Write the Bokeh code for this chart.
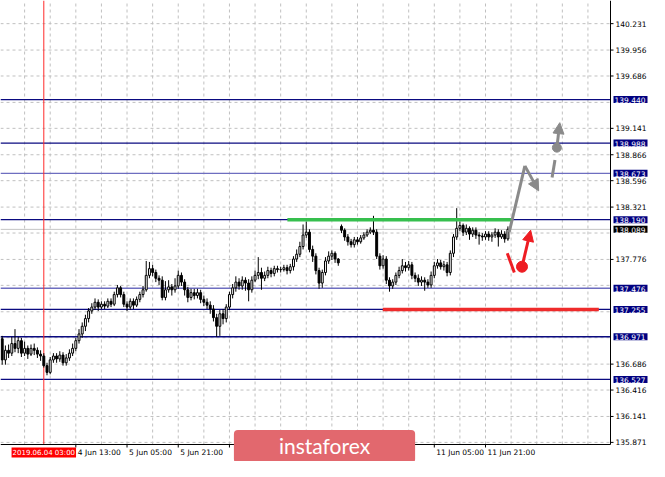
from bokeh.plotting import figure
from bokeh.models import Range1d, Label, Arrow, NormalHead, ColumnDataSource
from bokeh.core.properties import value
from bokeh.embed import file_html
from bokeh.resources import INLINE

# ---------------- data ----------------
FIRST_BAR = -13          # bar index 0 = 2019.06.04 03:00 (H1 bars, weekend skipped)
OPEN = [
136.95, 136.73, 136.83, 136.80, 136.90, 136.85, 136.93, 136.80, 136.85, 136.79,
136.85, 136.83, 136.79, 136.77, 136.67, 136.60, 136.73, 136.77, 136.74, 136.78,
136.70, 136.75, 136.80, 136.85, 136.93, 137.00, 137.08, 137.16, 137.24, 137.28,
137.33, 137.28, 137.31, 137.29, 137.34, 137.31, 137.41, 137.48, 137.41, 137.31,
137.28, 137.34, 137.30, 137.36, 137.41, 137.46, 137.61, 137.68, 137.64, 137.58,
137.56, 137.38, 137.46, 137.49, 137.46, 137.50, 137.61, 137.54, 137.46, 137.38,
137.43, 137.40, 137.43, 137.36, 137.33, 137.30, 137.26, 137.17, 137.08, 137.21,
137.16, 137.28, 137.41, 137.48, 137.54, 137.50, 137.56, 137.53, 137.46, 137.56,
137.61, 137.64, 137.58, 137.61, 137.66, 137.63, 137.68, 137.67, 137.67, 137.69,
137.66, 137.70, 137.78, 137.83, 137.91, 138.03, 138.06, 137.88, 137.81, 137.66,
137.53, 137.64, 137.76, 137.81, 137.84, 137.78, 138.12, 138.08, 138.01, 137.96,
137.93, 137.98, 137.96, 138.00, 138.03, 138.06, 138.08, 138.06, 137.81, 137.71,
137.78, 137.56, 137.50, 137.54, 137.61, 137.66, 137.71, 137.69, 137.72, 137.61,
137.58, 137.54, 137.56, 137.54, 137.51, 137.61, 137.71, 137.74, 137.70, 137.72,
137.64, 137.84, 138.01, 138.10, 138.13, 138.06, 138.10, 138.04, 138.08, 138.03,
138.02, 138.01, 138.04, 138.01, 138.03, 138.06, 138.01, 138.04, 137.99,
]
CLOSE = [
136.73, 136.83, 136.80, 136.90, 136.85, 136.93, 136.80, 136.85, 136.79, 136.85,
136.83, 136.79, 136.77, 136.67, 136.60, 136.73, 136.77, 136.74, 136.78, 136.70,
136.75, 136.80, 136.85, 136.93, 137.00, 137.08, 137.16, 137.24, 137.28, 137.33,
137.28, 137.31, 137.29, 137.34, 137.31, 137.41, 137.48, 137.41, 137.31, 137.28,
137.34, 137.30, 137.36, 137.41, 137.46, 137.61, 137.68, 137.64, 137.58, 137.56,
137.38, 137.46, 137.49, 137.46, 137.50, 137.61, 137.54, 137.46, 137.38, 137.43,
137.40, 137.43, 137.36, 137.33, 137.30, 137.26, 137.17, 137.08, 137.21, 137.16,
137.28, 137.41, 137.48, 137.54, 137.50, 137.56, 137.53, 137.46, 137.56, 137.61,
137.64, 137.58, 137.61, 137.66, 137.63, 137.68, 137.67, 137.67, 137.69, 137.66,
137.70, 137.78, 137.83, 137.91, 138.03, 138.06, 137.88, 137.81, 137.66, 137.53,
137.64, 137.76, 137.81, 137.84, 137.78, 137.74, 138.08, 138.01, 137.96, 137.93,
137.98, 137.96, 138.00, 138.03, 138.06, 138.08, 138.06, 137.81, 137.71, 137.78,
137.56, 137.50, 137.54, 137.61, 137.66, 137.71, 137.69, 137.72, 137.61, 137.58,
137.54, 137.56, 137.54, 137.51, 137.61, 137.71, 137.74, 137.70, 137.72, 137.64,
137.84, 138.01, 138.10, 138.13, 138.06, 138.10, 138.04, 138.08, 138.03, 138.02,
138.01, 138.04, 138.01, 138.03, 138.06, 138.01, 138.04, 137.99, 138.09,
]
HIGH = [
136.98, 136.88, 136.89, 136.97, 137.05, 136.97, 136.96, 136.92, 136.88, 136.89,
136.90, 136.86, 136.83, 136.80, 136.70, 136.76, 136.80, 136.80, 136.82, 136.81,
136.79, 136.84, 136.90, 136.96, 137.05, 137.12, 137.20, 137.27, 137.32, 137.37,
137.36, 137.34, 137.34, 137.37, 137.37, 137.44, 137.51, 137.50, 137.44, 137.34,
137.37, 137.37, 137.39, 137.44, 137.50, 137.76, 137.75, 137.72, 137.67, 137.61,
137.60, 137.55, 137.56, 137.52, 137.58, 137.66, 137.64, 137.57, 137.49, 137.47,
137.47, 137.47, 137.46, 137.40, 137.37, 137.34, 137.30, 137.21, 137.25, 137.26,
137.31, 137.44, 137.52, 137.60, 137.58, 137.60, 137.59, 137.57, 137.60, 137.66,
137.80, 137.69, 137.65, 137.70, 137.69, 137.71, 137.71, 137.70, 137.72, 137.72,
137.73, 137.81, 137.88, 137.96, 138.14, 138.17, 138.09, 137.92, 137.84, 137.69,
137.67, 137.80, 137.86, 137.87, 137.86, 137.79, 138.14, 138.10, 138.04, 137.99,
138.01, 138.01, 138.03, 138.06, 138.09, 138.11, 138.23, 138.09, 137.84, 137.82,
137.81, 137.59, 137.57, 137.64, 137.70, 137.78, 137.75, 137.76, 137.75, 137.64,
137.62, 137.60, 137.59, 137.57, 137.65, 137.75, 137.78, 137.77, 137.76, 137.75,
137.87, 138.04, 138.31, 138.17, 138.15, 138.14, 138.12, 138.11, 138.11, 138.06,
138.05, 138.07, 138.07, 138.06, 138.10, 138.09, 138.08, 138.07, 138.12,
]
LOW = [
136.68, 136.68, 136.75, 136.77, 136.81, 136.80, 136.76, 136.77, 136.74, 136.77,
136.78, 136.75, 136.72, 136.65, 136.57, 136.58, 136.70, 136.70, 136.71, 136.67,
136.67, 136.72, 136.77, 136.82, 136.90, 136.96, 137.03, 137.12, 137.21, 137.25,
137.24, 137.26, 137.26, 137.27, 137.28, 137.29, 137.38, 137.38, 137.28, 137.24,
137.25, 137.26, 137.28, 137.33, 137.38, 137.44, 137.58, 137.60, 137.54, 137.51,
137.35, 137.35, 137.43, 137.40, 137.43, 137.47, 137.50, 137.40, 137.33, 137.35,
137.36, 137.37, 137.32, 137.29, 137.26, 137.21, 137.13, 136.97, 136.98, 137.10,
137.12, 137.25, 137.37, 137.44, 137.46, 137.46, 137.45, 137.34, 137.43, 137.54,
137.57, 137.46, 137.55, 137.58, 137.59, 137.60, 137.64, 137.64, 137.65, 137.62,
137.63, 137.66, 137.75, 137.80, 137.88, 138.00, 137.85, 137.75, 137.62, 137.47,
137.48, 137.61, 137.73, 137.77, 137.74, 137.71, 138.05, 137.97, 137.92, 137.90,
137.90, 137.93, 137.94, 137.98, 138.01, 138.04, 138.03, 137.78, 137.67, 137.68,
137.52, 137.44, 137.47, 137.51, 137.58, 137.63, 137.65, 137.66, 137.57, 137.54,
137.50, 137.50, 137.45, 137.48, 137.48, 137.58, 137.68, 137.67, 137.66, 137.60,
137.61, 137.80, 137.98, 138.07, 138.02, 138.03, 137.98, 138.01, 137.99, 137.93,
137.97, 137.98, 137.97, 137.96, 138.00, 137.91, 137.99, 137.95, 137.97,
]

PRICE_TICKS = [135.871, 136.141, 136.416, 136.686, 136.961, 137.231, 137.506, 137.776,
               138.051, 138.321, 138.596, 138.866, 139.141, 139.411, 139.686, 139.956, 140.231]
PRICE_TICKS_SHOWN = [135.871, 136.141, 136.416, 136.686, 137.776, 138.321, 138.596,
                     138.866, 139.141, 139.686, 139.956, 140.231]
TIME_TICKS = [10, 26, 42, 58, 74, 90, 106, 122, 138]
TIME_LABELS = ["4 Jun 13:00", "5 Jun 05:00", "5 Jun 21:00", "", "", "", "",
               "11 Jun 05:00", "11 Jun 21:00"]
TIME_GRID = list(range(-14, 178, 8))

LEVELS = [139.440, 138.988, 138.673, 138.190, 137.476, 137.255, 136.971, 136.527]
LEVEL_LIGHT = [False, False, True, False, True, False, False, False]
BID = 138.089
CURSOR_BAR = 0
CURSOR_TEXT = "2019.06.04 03:00"

GREEN_X = [76.1, 146.0]
GREEN_Y = [138.19, 138.19]
REDLINE_X = [105.9, 173.4]
REDLINE_Y = [137.255, 137.255]

GRAY_PATH_X = [145.4, 150.3, 154.6]
GRAY_PATH_Y = [138.06, 138.75, 138.49]
GRAY_DASH_X = [158.8, 159.7]
GRAY_DASH_Y = [138.63, 138.81]
GRAY_DOT = [160.3, 138.94]
GRAY_TIP = [161.2, 139.20]
RED_DASH_X = [144.8, 147.0]
RED_DASH_Y = [137.84, 137.64]
RED_DOT = [149.4, 137.70]
RED_TIP = [152.1, 138.08]

WATERMARK = "instaforex"
WATERMARK_BAR = 87.7

# ---------------- layout ----------------
W, H = 649, 461
RIGHT, BOTTOM = 39, 17               # axis strips (px) inside the canvas
X0, X1 = -13.53, 177.05              # plotted bar range
Y0, Y1 = 135.849, 140.472            # plotted price range
BPP = (X1 - X0) / (W - RIGHT)        # bars per pixel
UPP = (Y1 - Y0) / (H - BOTTOM)       # price per pixel

FONT = "DejaVu Sans"
FS = "7.5px"
NAVY = "#0a0a80"
LIGHT = "#6e6ec0"
GRAY = "#8a8a8a"
RED = "#ee1d23"
GRID = "#c0c0c0"

p = figure(width=W, height=H,
           x_range=Range1d(X0, X1 + RIGHT * BPP), y_range=Range1d(Y0 - BOTTOM * UPP, Y1),
           x_axis_location=None, y_axis_location=None,
           output_backend="svg", toolbar_location=None,
           min_border=0, background_fill_color="white", border_fill_color="white",
           outline_line_color=None)
p.grid.visible = False

# grid (dashed) limited to the plotting area
p.segment(x0=[X0] * len(PRICE_TICKS), y0=PRICE_TICKS, x1=[X1] * len(PRICE_TICKS), y1=PRICE_TICKS,
          line_color=GRID, line_dash="3 3", line_width=1)
p.segment(x0=TIME_GRID, y0=[Y0] * len(TIME_GRID), x1=TIME_GRID, y1=[Y1] * len(TIME_GRID),
          line_color=GRID, line_dash="3 3", line_width=1)

# horizontal levels, bid line, cursor line
p.segment(x0=[X0] * len(LEVELS), y0=LEVELS, x1=[X1] * len(LEVELS), y1=LEVELS,
          line_color=[LIGHT if l else NAVY for l in LEVEL_LIGHT], line_width=1.3)
p.segment(x0=[X0], y0=[BID], x1=[X1], y1=[BID], line_color="#c4c4c4", line_width=1)
p.segment(x0=[CURSOR_BAR], y0=[Y0], x1=[CURSOR_BAR], y1=[Y1], line_color="#ff2a2a", line_width=1)

# candles
idx = list(range(FIRST_BAR, FIRST_BAR + len(CLOSE)))
bull = dict(x=[], top=[], bottom=[])
bear = dict(x=[], top=[], bottom=[])
for i, o, c in zip(idx, OPEN, CLOSE):
    d = bull if c >= o else bear
    d["x"].append(i)
    d["top"].append(max(o, c))
    d["bottom"].append(min(o, c))
p.segment(x0=idx, y0=LOW, x1=idx, y1=HIGH, line_color="black", line_width=1)
p.vbar(x="x", top="top", bottom="bottom", width=0.6, source=ColumnDataSource(bull),
       fill_color="white", line_color="black", line_width=1)
p.vbar(x="x", top="top", bottom="bottom", width=0.6, source=ColumnDataSource(bear),
       fill_color="black", line_color="black", line_width=1)

# drawn lines
p.line(GREEN_X, GREEN_Y, line_color="#36bf4e", line_width=3.5)
p.line(REDLINE_X, REDLINE_Y, line_color="#ef2b2b", line_width=3.5)

# forecast arrows
p.line(GRAY_PATH_X[:2], GRAY_PATH_Y[:2], line_color=GRAY, line_width=3)
p.add_layout(Arrow(x_start=GRAY_PATH_X[1], y_start=GRAY_PATH_Y[1], x_end=GRAY_PATH_X[2],
                   y_end=GRAY_PATH_Y[2], line_color=GRAY, line_width=3,
                   end=NormalHead(size=11, fill_color=GRAY, line_color=GRAY)))
p.line(GRAY_DASH_X, GRAY_DASH_Y, line_color=GRAY, line_width=3)
p.scatter([GRAY_DOT[0]], [GRAY_DOT[1]], size=9, color=GRAY)
p.add_layout(Arrow(x_start=GRAY_DOT[0], y_start=GRAY_DOT[1], x_end=GRAY_TIP[0],
                   y_end=GRAY_TIP[1], line_color=GRAY, line_width=3,
                   end=NormalHead(size=11, fill_color=GRAY, line_color=GRAY)))
p.line(RED_DASH_X, RED_DASH_Y, line_color=RED, line_width=3)
p.scatter([RED_DOT[0]], [RED_DOT[1]], size=11, color=RED)
p.add_layout(Arrow(x_start=RED_DOT[0], y_start=RED_DOT[1], x_end=RED_TIP[0],
                   y_end=RED_TIP[1], line_color=RED, line_width=3,
                   end=NormalHead(size=11, fill_color=RED, line_color=RED)))

# ---- axes (price scale on the right, time scale below) ----
p.segment(x0=[X1, X0], y0=[Y0, Y0], x1=[X1, X1], y1=[Y1, Y0], line_color="black", line_width=1)
n = len(PRICE_TICKS_SHOWN)
p.segment(x0=[X1] * n, y0=PRICE_TICKS_SHOWN, x1=[X1 + 3 * BPP] * n, y1=PRICE_TICKS_SHOWN,
          line_color="black", line_width=1)
p.text(x=[X1 + 5 * BPP] * n, y=PRICE_TICKS_SHOWN, text=[f"{v:.3f}" for v in PRICE_TICKS_SHOWN],
       text_font=value(FONT), text_font_size=FS, text_color="black",
       text_baseline="middle", text_align="left")
m = len(TIME_TICKS)
p.segment(x0=TIME_TICKS, y0=[Y0] * m, x1=TIME_TICKS, y1=[Y0 - 3 * UPP] * m,
          line_color="black", line_width=1)
shown = [(t, l) for t, l in zip(TIME_TICKS, TIME_LABELS) if l]
p.text(x=[t + 2 * BPP for t, _ in shown], y=[Y0 - 3.5 * UPP] * len(shown),
       text=[l for _, l in shown], text_font=value(FONT), text_font_size=FS,
       text_color="black", text_baseline="top", text_align="left")

# price boxes on the right axis
for lv in LEVELS + [BID]:
    p.add_layout(Label(x=X1 + 3 * BPP, y=lv, text=f"{lv:.3f}", text_font=FONT,
                       text_font_size=FS, text_color="white", text_align="left",
                       text_baseline="middle", padding=dict(left=1, right=2, top=1, bottom=0),
                       background_fill_color="black" if lv == BID else "#000080"))

# cursor time box
p.add_layout(Label(x=CURSOR_BAR, y=Y0 - 8 * UPP, text=CURSOR_TEXT, text_font=FONT,
                   text_font_size="7px", text_color="white", text_align="center",
                   text_baseline="middle", padding=dict(left=1, right=1, top=1, bottom=1),
                   background_fill_color="#ff0000"))

# watermark
p.add_layout(Label(x=WATERMARK_BAR, y=Y0 - 2 * UPP, text=WATERMARK, text_font="Lato",
                   text_font_size="21px", text_color="white", text_align="center",
                   text_baseline="middle",
                   padding=dict(left=45, right=45, top=3, bottom=5), border_radius=4,
                   background_fill_color="#e2686e"))

open("out.html", "w").write(file_html(p, INLINE))
